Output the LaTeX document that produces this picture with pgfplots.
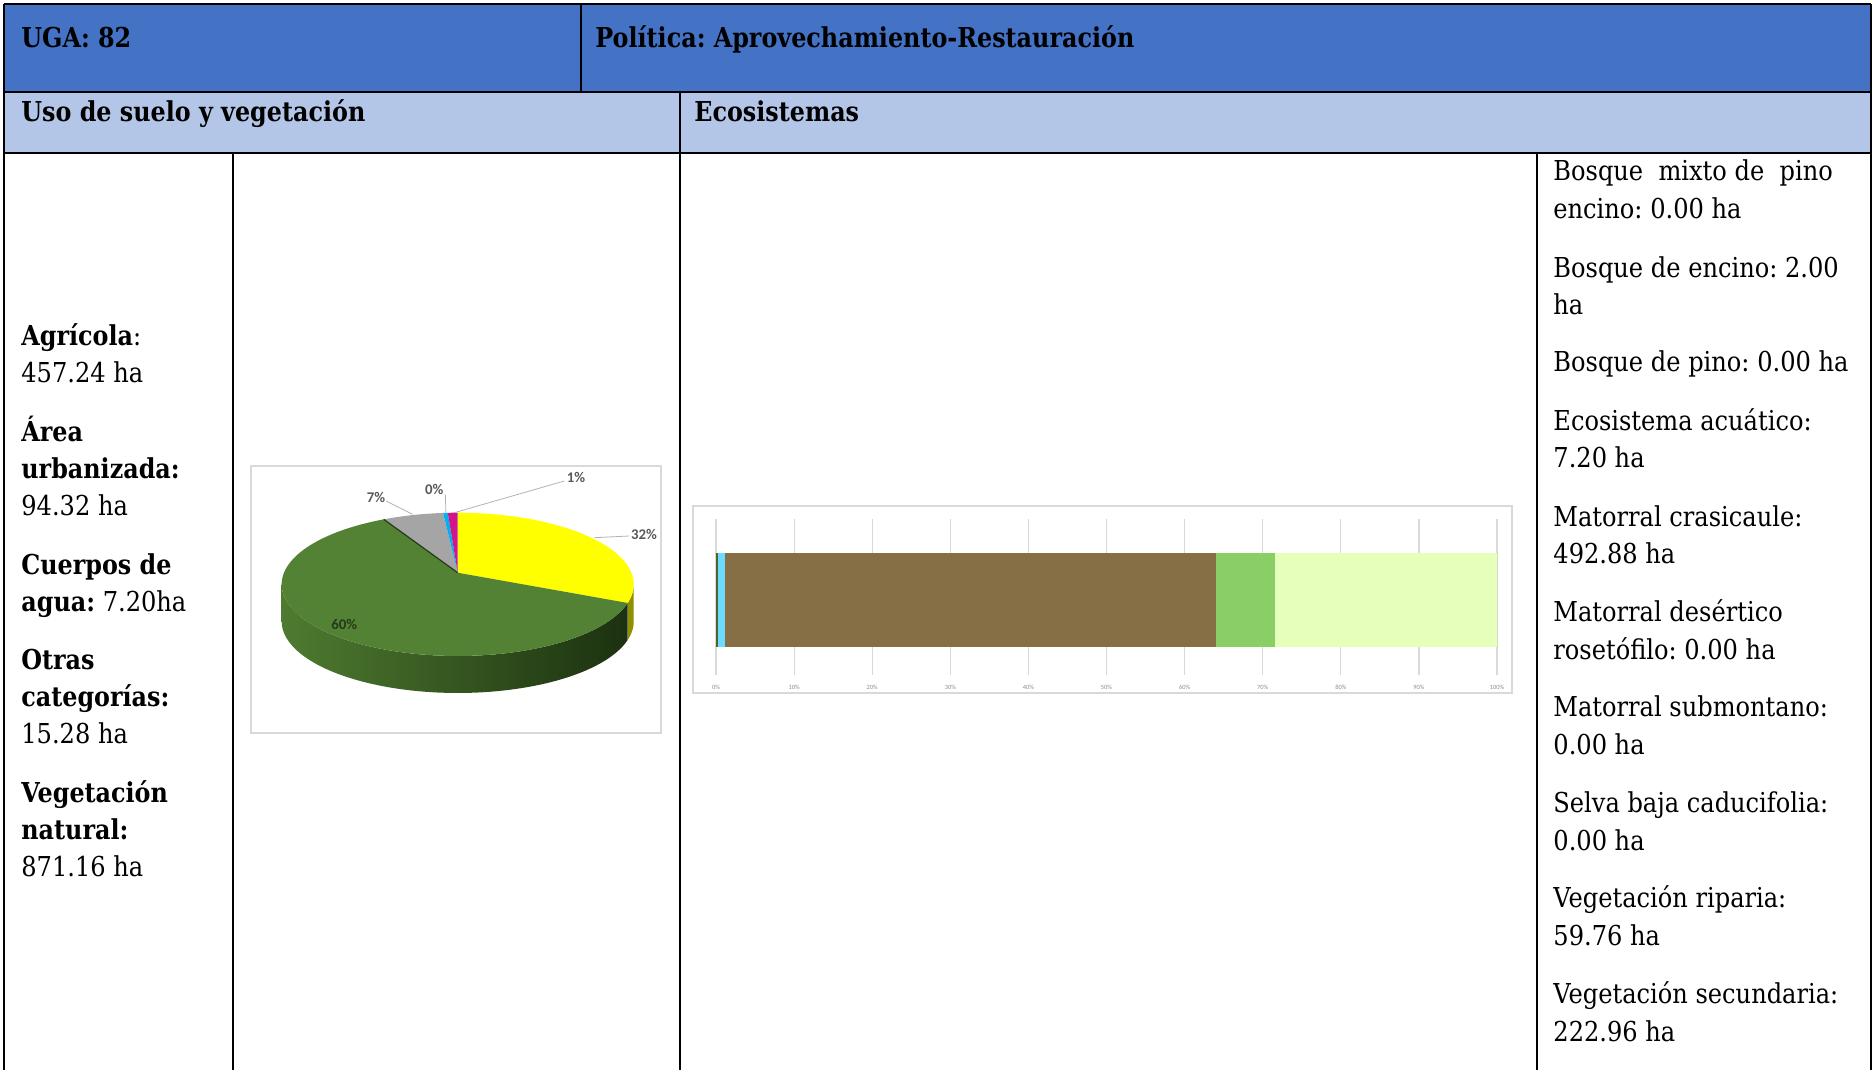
\documentclass[border=0pt]{standalone}
\usepackage{pgfplots}
\pgfplotsset{compat=1.18}
\usepackage{fontspec}
\setmainfont{DejaVu Serif}[FakeStretch=0.88, BoldFeatures={FakeStretch=0.87}]
\newfontfamily\lblfont{Carlito}
\definecolor{hdr}{HTML}{4472C4}
\definecolor{hdrlight}{HTML}{B4C6E7}
\definecolor{pieYellow}{HTML}{FFFF00}
\definecolor{pieYellowSide}{HTML}{8F8F00}
\definecolor{pieGreen}{HTML}{548235}
\definecolor{pieGreenL}{HTML}{4E7B30}
\definecolor{pieGreenD}{HTML}{1C3110}
\definecolor{pieGray}{HTML}{A5A5A5}
\definecolor{pieCyan}{HTML}{00B0F0}
\definecolor{pieMag}{HTML}{D0168A}
\definecolor{lblgray}{HTML}{595959}
\definecolor{ecoEncino}{HTML}{4F6228}
\definecolor{ecoAgua}{HTML}{6DDBFF}
\definecolor{ecoCras}{HTML}{876F45}
\definecolor{ecoRip}{HTML}{8ACE66}
\definecolor{ecoSec}{HTML}{E6FFBB}
\definecolor{ecoOther}{HTML}{7F7F7F}
\definecolor{framegray}{HTML}{D9D9D9}

% Uso de suelo y vegetacion (ha)
\def\vAgr{457.24}
\def\vUrb{94.32}
\def\vAgua{7.20}
\def\vOtr{15.28}
\def\vNat{871.16}

\newcommand\T[3]{\node[anchor=base west, inner sep=0pt] at (#1,#2) {#3};}

\begin{document}
\frenchspacing
\begin{tikzpicture}[x=0.5pt,y=-0.5pt]
\path[use as bounding box] (0,0) rectangle (1874,1070);
\fontsize{13.7pt}{16pt}\selectfont
% header fills
\fill[hdr] (4,4) rectangle (1871,92);
\fill[hdrlight] (4,92) rectangle (1871,153);
% table lines
\begin{scope}[line width=1.2pt, black]
\draw (4,4) -- (1871,4);
\draw (4,92) -- (1871,92);
\draw (4,153) -- (1871,153);
\draw (4,4) -- (4,1070);
\draw (1871,4) -- (1871,1070);
\draw (581,4) -- (581,92);
\draw (680,92) -- (680,1070);
\draw (233,153) -- (233,1070);
\draw (1537,153) -- (1537,1070);
\end{scope}
% headers
\T{21}{47.3}{\bfseries UGA: 82}
\T{595}{47.3}{\bfseries Política: Aprovechamiento-Restauración}
\T{21}{121.7}{\bfseries Uso de suelo y vegetación}
\T{694}{121.7}{\bfseries Ecosistemas}
% left column
\T{21}{345.9}{\textbf{Agrícola}:}
\T{21}{382.9}{457.24 ha}
\T{21}{441.5}{\textbf{Área}}
\T{21}{478.5}{\textbf{urbanizada:}}
\T{21}{515.5}{94.32 ha}
\T{21}{574.1}{\textbf{Cuerpos de}}
\T{21}{611.1}{\textbf{agua:} 7.20ha}
\T{21}{669.7}{\textbf{Otras}}
\T{21}{706.7}{\textbf{categorías:}}
\T{21}{743.7}{15.28 ha}
\T{21}{802.5}{\textbf{Vegetación}}
\T{21}{839.3}{\textbf{natural:}}
\T{21}{876.3}{871.16 ha}
% right column
\T{1553}{180.9}{Bosque\ \ mixto de\ \ pino}
\T{1553}{218.0}{encino: 0.00 ha}
\T{1553}{277.7}{Bosque de encino: 2.00}
\T{1553}{314.8}{ha}
\T{1553}{371.9}{Bosque de pino: 0.00 ha}
\T{1553}{430.7}{Ecosistema acuático:}
\T{1553}{467.8}{7.20 ha}
\T{1553}{526.3}{Matorral crasicaule:}
\T{1553}{563.4}{492.88 ha}
\T{1553}{621.9}{Matorral desértico}
\T{1553}{659.0}{rosetófilo: 0.00 ha}
\T{1553}{716.4}{Matorral submontano:}
\T{1553}{754.6}{0.00 ha}
\T{1553}{812.0}{Selva baja caducifolia:}
\T{1553}{850.2}{0.00 ha}
\T{1553}{907.6}{Vegetación riparia:}
\T{1553}{945.8}{59.76 ha}
\T{1553}{1003.2}{Vegetación secundaria:}
\T{1553}{1041.5}{222.96 ha}

% frames of the two charts
\draw[framegray, line width=0.6pt] (251,466) rectangle (661,733);
\draw[framegray, line width=0.6pt] (693,506) rectangle (1512,693);

% pie angles (clockwise from 12 o'clock)
\pgfmathsetmacro\tot{\vAgr+\vNat+\vUrb+\vAgua+\vOtr}
\pgfmathsetmacro\aA{90}
\pgfmathsetmacro\aB{\aA-360*(\vAgr/\tot)}
\pgfmathsetmacro\aC{\aB-360*(\vNat/\tot)}
\pgfmathsetmacro\aD{\aC-360*(\vUrb/\tot)}
\pgfmathsetmacro\aE{\aD-360*(\vAgua/\tot)}
\pgfmathsetmacro\aF{\aE-360*(\vOtr/\tot)}

\begin{axis}[at={(125.5pt,-366.5pt)}, anchor=south west, scale only axis,
  width=205pt, height=133.5pt, xmin=0, xmax=410, ymin=0, ymax=267,
  hide axis, clip=false,
  declare function={
    sang(\t,\a,\b)=(\t<=1)*(\a+(\b-\a)*\t)+(\t>1)*(\b+(\a-\b)*(\t-1));
    pr(\t)=1/(1+0.1625*sin(\t));
    px(\t)=206.7+173.7*cos(\t)*pr(\t);
    py(\t)=160.3+69.75*sin(\t)*pr(\t);}]
% sides (visible front part, 3D depth 37)
\addplot[draw=none, fill=pieYellowSide, domain=0:2, samples=61, variable=\t]
  ({px(sang(\t,-9.35,\aB))},{py(sang(\t,-9.35,\aB))-37*(\t>1)}) -- cycle;
\addplot[draw=none, left color=pieGreenL, right color=pieGreenD, domain=0:2, samples=161, variable=\t]
  ({px(sang(\t,\aB,-170.65))},{py(sang(\t,\aB,-170.65))-37*(\t>1)}) -- cycle;
% top faces
\addplot[draw=none, fill=pieYellow, domain=\aB:\aA, samples=60, variable=\t]
  ({px(\t)},{py(\t)}) -- (axis cs:206.7,160.3) -- cycle;
\addplot[draw=none, fill=pieGreen, domain=\aC:\aB, samples=120, variable=\t]
  ({px(\t)},{py(\t)}) -- (axis cs:206.7,160.3) -- cycle;
\addplot[draw=none, fill=pieGray, domain=\aD:\aC, samples=30, variable=\t]
  ({px(\t)},{py(\t)}) -- (axis cs:206.7,160.3) -- cycle;
\addplot[draw=none, fill=pieCyan, domain=\aE:\aD, samples=10, variable=\t]
  ({px(\t)},{py(\t)}) -- (axis cs:206.7,160.3) -- cycle;
\addplot[draw=none, fill=pieMag, domain=\aF:\aE, samples=10, variable=\t]
  ({px(\t)},{py(\t)}) -- (axis cs:206.7,160.3) -- cycle;
% dark edge between green and gray wedges
\addplot[draw=black!55!pieGreen, line width=0.6pt, domain=0:1, samples=2, variable=\s]
  ({206.7+\s*(px(\aC)-206.7)},{160.3+\s*(py(\aC)-160.3)});
% leader lines
\addplot[black!30, line width=0.4pt] coordinates {(343.3,195.3) (378,197)};
\addplot[black!30, line width=0.4pt] coordinates {(135,232) (161.7,218.7)};
\addplot[black!30, line width=0.4pt] coordinates {(194.3,238.7) (195,218.7)};
\addplot[black!30, line width=0.4pt] coordinates {(203.3,220.3) (313.3,252)};
% labels
\node[font=\lblfont\bfseries\fontsize{7.4pt}{8pt}\selectfont, text=lblgray] at (axis cs:393,199) {32\%};
\node[font=\lblfont\bfseries\fontsize{7.4pt}{8pt}\selectfont, text=black!55!pieGreen] at (axis cs:93.3,108.7) {60\%};
\node[font=\lblfont\bfseries\fontsize{7.4pt}{8pt}\selectfont, text=lblgray] at (axis cs:125,235.3) {7\%};
\node[font=\lblfont\bfseries\fontsize{7.4pt}{8pt}\selectfont, text=lblgray] at (axis cs:183.3,243.7) {0\%};
\node[font=\lblfont\bfseries\fontsize{7.4pt}{8pt}\selectfont, text=lblgray] at (axis cs:325,255.3) {1\%};
\end{axis}

% Ecosistemas stacked bar (ha)
\begin{axis}[at={(358pt,-337.5pt)}, anchor=south west, scale only axis,
  width=390.5pt, height=78pt, xbar stacked, bar width=46.7pt,
  xmin=0, xmax=784.8, ymin=-0.962, ymax=1.038, ytick=\empty,
  xtick={0,78.48,156.96,235.44,313.92,392.4,470.88,549.36,627.84,706.32,784.8},
  xticklabels={0\%,10\%,20\%,30\%,40\%,50\%,60\%,70\%,80\%,90\%,100\%},
  xmajorgrids, grid style={draw=black!15, line width=0.6pt},
  axis line style={draw=none}, major tick length=0pt,
  xticklabel style={font=\lblfont\fontsize{3.2pt}{4pt}\selectfont, text=black!45, inner sep=0pt, yshift=-5pt}]
\addplot[fill=ecoOther, draw=none] coordinates {(0.00,0)};   % Bosque mixto de pino encino
\addplot[fill=ecoEncino, draw=none] coordinates {(2.00,0)};  % Bosque de encino
\addplot[fill=ecoOther, draw=none] coordinates {(0.00,0)};   % Bosque de pino
\addplot[fill=ecoAgua, draw=none] coordinates {(7.20,0)};    % Ecosistema acuatico
\addplot[fill=ecoCras, draw=none] coordinates {(492.88,0)};  % Matorral crasicaule
\addplot[fill=ecoOther, draw=none] coordinates {(0.00,0)};   % Matorral desertico rosetofilo
\addplot[fill=ecoOther, draw=none] coordinates {(0.00,0)};   % Matorral submontano
\addplot[fill=ecoOther, draw=none] coordinates {(0.00,0)};   % Selva baja caducifolia
\addplot[fill=ecoRip, draw=none] coordinates {(59.76,0)};    % Vegetacion riparia
\addplot[fill=ecoSec, draw=none] coordinates {(222.96,0)};   % Vegetacion secundaria
\end{axis}
\end{tikzpicture}
\end{document}
